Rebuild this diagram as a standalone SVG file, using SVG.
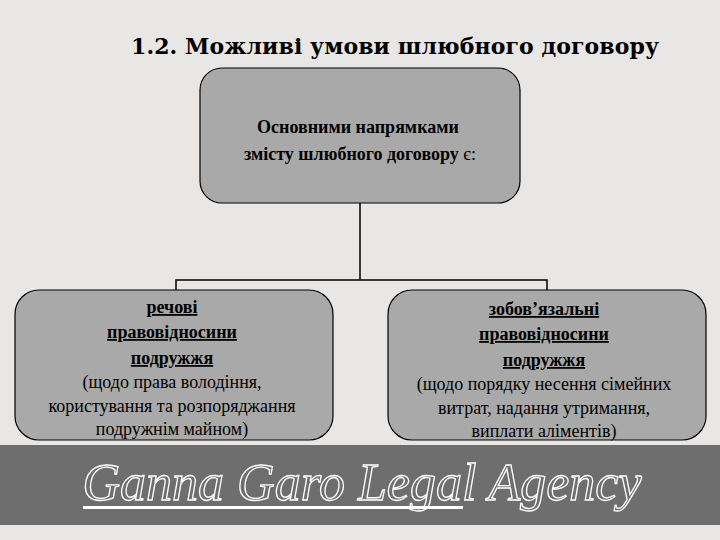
<svg xmlns="http://www.w3.org/2000/svg" width="720" height="540" viewBox="0 0 720 540">
<style>
.box{fill:#a9a9a9;stroke:#000;stroke-width:1.2}
.t{font-family:'Liberation Serif','Times New Roman','DejaVu Serif',serif;font-size:18px;fill:#000;text-anchor:middle}
.h{font-weight:bold;text-decoration:underline}
</style>
<rect width="720" height="540" fill="#e9e6e6"/>
<text x="395" y="54" font-family="'DejaVu Serif',serif" font-size="22" font-weight="bold" text-anchor="middle" fill="#000" textLength="528">1.2. Можливі умови шлюбного договору</text>
<g id="connectors" stroke="#000" stroke-width="1.5" fill="none">
<path d="M360 203 V280 M176 290 V280 H547 V290"/>
</g>
<g id="top"><rect class="box" x="200" y="68" width="320" height="135" rx="22"/>
<text class="t" style="font-weight:bold" x="358" y="133">Основними напрямками</text>
<text class="t" style="font-weight:bold" x="360" y="160">змісту шлюбного договору <tspan font-weight="normal">є:</tspan></text></g>
<g id="left"><rect class="box" x="15" y="290" width="318" height="150" rx="24"/>
<text class="t h" x="172" y="313">речові</text>
<text class="t h" x="172" y="338">правовідносини</text>
<text class="t h" x="172" y="364">подружжя</text>
<text class="t" x="172" y="388">(щодо права володіння,</text>
<text class="t" x="172" y="412">користування та розпоряджання</text>
<text class="t" x="172" y="435">подружнім майном)</text></g>
<g id="right"><rect class="box" x="388" y="290" width="318" height="150" rx="24"/>
<text class="t h" x="544" y="315">зобов’язальні</text>
<text class="t h" x="544" y="340">правовідносини</text>
<text class="t h" x="544" y="366">подружжя</text>
<text class="t" x="544" y="390">(щодо порядку несення сімейних</text>
<text class="t" x="544" y="414">витрат, надання утримання,</text>
<text class="t" x="544" y="437">виплати аліментів)</text></g>
<rect x="0" y="445" width="720" height="80" fill="#6e6e6e"/>
<rect x="83" y="506" width="380" height="3" fill="#fff"/>
<text x="362" y="500" font-family="'Liberation Serif',serif" font-style="italic" font-size="52" fill="none" stroke="#fff" stroke-width="1.3" text-anchor="middle">Ganna Garo Legal Agency</text>
</svg>
